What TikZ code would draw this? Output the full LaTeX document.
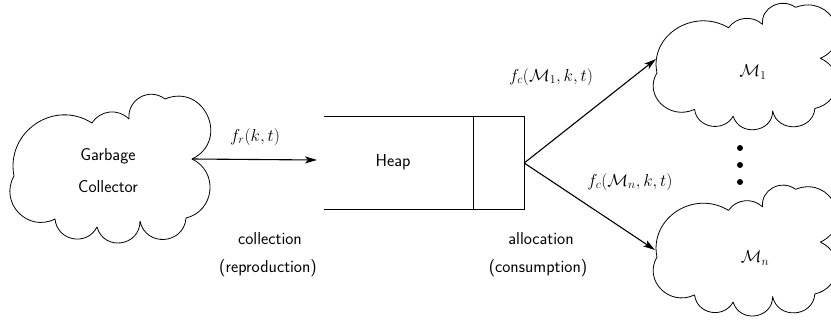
\documentclass[tikz,border=0pt]{standalone}
\usetikzlibrary{arrows.meta}
\tikzset{
  cloudline/.style={line width=0.8pt, line join=round},
  conn/.style={line width=1.1pt, -{Stealth[length=12pt,width=7pt,inset=3pt]}},
  boxline/.style={line width=1.1pt},
  lbl/.style={font=\fontsize{17.28}{20}\selectfont\sffamily, inner sep=0pt},
  mlbl/.style={font=\fontsize{17.28}{20}\selectfont, inner sep=0pt},
  dotnode/.style={circle, fill, inner sep=0pt, minimum size=6pt},
  cloudpic/.pic={
    \draw[cloudline] (-19,-45)
      to[bend left=51.6,looseness=1.051] (18,-49)
      to[bend left=66.8,looseness=1.222] (54,-69)
      to[bend left=88.4,looseness=1.657] (81,-9)
      to[bend left=70.6,looseness=1.279] (75,50)
      to[bend left=81.9,looseness=1.493] (29,53)
      to[bend left=82.4,looseness=1.504] (-14,59)
      to[bend left=73.6,looseness=1.328] (-56,51)
      to[bend left=73,looseness=1.318] (-97,8)
      to[bend left=66.7,looseness=1.22] (-19,-45) -- cycle;
  }
}
\begin{document}
\begin{tikzpicture}[x=1pt,y=-1pt]
\clip (0,0) rectangle (831,324);
\fill[white] (0,0) rectangle (831,324);

% Garbage collector cloud
\pic at (111,168) {cloudpic};
\node[lbl, align=center] (gc) at (108,171) {Garbage\\[12pt]Collector};
\coordinate (gcout) at (192,159);

% Heap
\node[minimum width=150pt, minimum height=92pt, inner sep=0pt] (heap) at (399,163) {};
\node[minimum width=50pt, minimum height=92pt, inner sep=0pt] (slot) at (499,163) {};
\draw[boxline] (heap.north west) -- (slot.north east) -- (slot.south east) -- (heap.south west);
\draw[boxline] (slot.north west) -- (slot.south west);
\node[lbl] (heaplabel) at (393,162) {Heap};
\coordinate (heapin) at (317,160);

% consumer clouds
\pic[xscale=0.918,yscale=0.85] at (746,66) {cloudpic};
\node[mlbl] (m1) at (753,72) {$\mathcal{M}_1$};
\coordinate (m1in) at (656,59);
\pic[xscale=0.918,yscale=0.88] at (746,250) {cloudpic};
\node[mlbl] (mn) at (755,258) {$\mathcal{M}_n$};
\coordinate (mnin) at (655,250);

\node[dotnode] (d1) at (740,148) {};
\node[dotnode] (d2) at (740,165) {};
\node[dotnode] (d3) at (740,182) {};

% connectors
\draw[conn] (gcout) -- (heapin);
\draw[conn] (slot.east) -- (m1in);
\draw[conn] (slot.east) -- (mnin);

% labels
\node[mlbl] (fr) at (255,137) {$f_r(k,t)$};
\node[mlbl] (fc1) at (551,77) {$f_c(\mathcal{M}_1,k,t)$};
\node[mlbl] (fcn) at (630,182) {$f_c(\mathcal{M}_n,k,t)$};
\node[lbl] (coll) at (270,239) {collection};
\node[lbl] (repr) at (268,268) {(reproduction)};
\node[lbl] (alloc) at (541,239) {allocation};
\node[lbl] (cons) at (538,268) {(consumption)};
\end{tikzpicture}
\end{document}
